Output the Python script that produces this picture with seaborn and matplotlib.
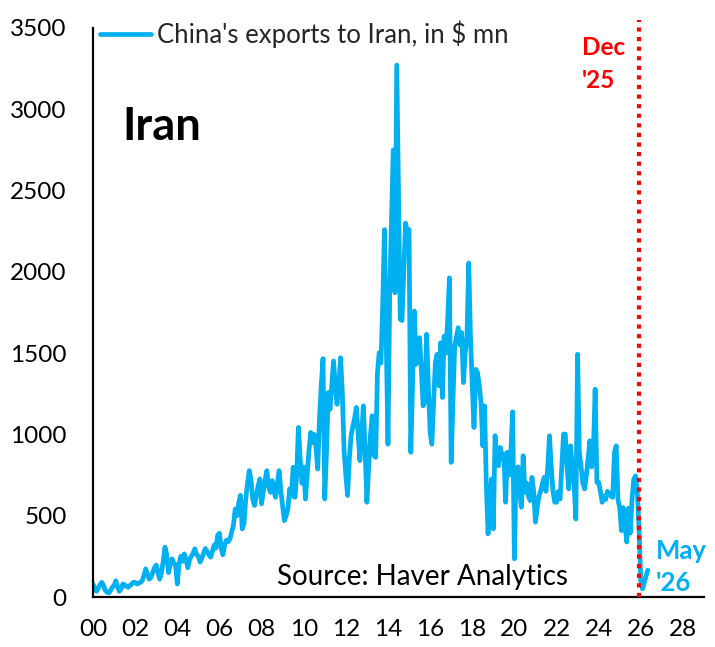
import numpy as np
import pandas as pd
import matplotlib
matplotlib.use("Agg")
import matplotlib.pyplot as plt
import seaborn as sns

# ---- data: China's exports to Iran, monthly, $ mn ----
exp_2000_2004 = [
    80, 50, 35, 55, 75, 90, 70, 40, 30, 25, 40, 60,
    70, 100, 60, 35, 50, 80, 75, 65, 60, 70, 80, 90,
    90, 80, 85, 90, 100, 130, 173, 140, 110, 120, 150, 180,
    196, 150, 110, 150, 220, 307, 260, 150, 200, 235, 210, 200,
    80, 200, 250, 220, 265, 230, 180, 230, 250, 270, 296, 260,
]
exp_2005_2009 = [
    250, 215, 240, 270, 298, 280, 260, 245, 280, 320, 300, 380,
    392, 300, 260, 320, 350, 340, 358, 400, 442, 541, 500, 580,
    625, 419, 450, 603, 700, 777, 720, 600, 563, 620, 680, 726,
    573, 650, 720, 777, 680, 644, 716, 650, 613, 700, 777, 650,
    560, 470, 500, 542, 665, 620, 798, 613, 750, 1043, 850, 700,
]
exp_2010_2014 = [
    800, 603, 750, 900, 1012, 950, 1000, 920, 787, 1100, 1300, 1466,
    603, 900, 1258, 1155, 1300, 1452, 1300, 1186, 1300, 1472, 1258, 900,
    750, 624, 850, 992, 1050, 1100, 1166, 1000, 839, 1000, 1176, 900,
    583, 800, 992, 1115, 870, 859, 1380, 1503, 1440, 1800, 2260, 1600,
    940, 1871, 2300, 2750, 1871, 3272, 2500, 1708, 1700, 2000, 2300, 2250,
]
exp_2015_2019 = [
    2260, 890, 1300, 1759, 1431, 1500, 1595, 1400, 1176, 1200, 1616, 1300,
    1012, 940, 1200, 1442, 1493, 1300, 1564, 1227, 1605, 1500, 1700, 1963,
    828, 1200, 1544, 1600, 1656, 1550, 1626, 1319, 1500, 1600, 2055, 1600,
    1300, 1043, 1400, 1380, 1300, 1196, 930, 1176, 700, 388, 600, 726,
    419, 992, 850, 808, 920, 850, 880, 583, 890, 750, 900, 1139,
]
exp_2020_2026 = [
    235, 787, 800, 650, 552, 869, 644, 700, 620, 593, 736, 650,
    460, 550, 620, 654, 700, 736, 650, 800, 992, 800, 650, 583,
    583, 650, 603, 800, 1002, 1002, 800, 665, 930, 800, 700, 480,
    1493, 890, 800, 700, 665, 750, 850, 961, 800, 900, 1278, 705,
    705, 650, 583, 620, 600, 650, 640, 620, 613, 890, 930, 600,
    546, 408, 550, 450, 338, 546, 393, 600, 724, 745, 650, 420,
    100, 50, 90, 130, 165,
]
start_year = 2000
dec25_mark = 2025 + 11 / 12
tick_years = list(range(2000, 2029, 2))
tick_labels = [f"{y % 100:02d}" for y in tick_years]
y_ticks = list(range(0, 3501, 500))

values = exp_2000_2004 + exp_2005_2009 + exp_2010_2014 + exp_2015_2019 + exp_2020_2026
t = start_year + np.arange(len(values)) / 12.0
df = pd.DataFrame({"t": t, "v": values})

BLUE = "#00B0F0"
RED = "#FF0000"

sns.set_style("white")
plt.rcParams["font.family"] = ["Lato", "DejaVu Sans"]

fig = plt.figure(figsize=(7.15, 6.47), dpi=100)
ax = fig.add_axes([93 / 715, 50 / 647, 611 / 715, 569 / 647])

sns.lineplot(data=df, x="t", y="v", ax=ax, color=BLUE, lw=3.4,
             label="China's exports to Iran, in $ mn")

ax.axvline(dec25_mark, ymin=0, ymax=1.014, color=RED, lw=3,
           linestyle=(0, (1, 1.3)), clip_on=False, zorder=3)

ax.set_xlim(2000, 2029)
ax.set_ylim(0, 3500)
ax.set_xticks(tick_years)
ax.set_xticklabels(tick_labels)
ax.set_yticks(y_ticks)
ax.set_xlabel("")
ax.set_ylabel("")

for s in ["top", "right"]:
    ax.spines[s].set_visible(False)
for s in ["left", "bottom"]:
    ax.spines[s].set_color("black")
    ax.spines[s].set_linewidth(1.6)

ax.tick_params(axis="x", direction="out", length=6, width=1.4, pad=10,
               labelsize=17.5, colors="black")
ax.tick_params(axis="y", direction="out", length=6, width=1.4, pad=13,
               labelsize=17.5, colors="black")

leg = ax.legend(loc="center left", bbox_to_anchor=(7 / 611, (597 - 34) / 569),
                frameon=False, fontsize=18.5, handlelength=2.0,
                handletextpad=0.22, borderaxespad=0, borderpad=0)

ax.text(2001.38, 2811, "Iran", fontsize=32.5, fontweight="bold", color="black",
        ha="left", va="baseline")
ax.text(2023.2, 3333, "Dec", fontsize=17.5, fontweight="bold", color=RED,
        ha="left", va="baseline")
ax.text(2023.2, 3130, "'25", fontsize=17.5, fontweight="bold", color=RED,
        ha="left", va="baseline")
ax.text(2026.72, 234, "May", fontsize=18.5, fontweight="bold", color=BLUE,
        ha="left", va="baseline", clip_on=False)
ax.text(2026.72, 37, "'26", fontsize=18.5, fontweight="bold", color=BLUE,
        ha="left", va="baseline", clip_on=False)
ax.text(2008.75, 72, "Source: Haver Analytics", fontsize=20, color="black",
        ha="left", va="baseline")

fig.savefig("out.png", dpi=100)
